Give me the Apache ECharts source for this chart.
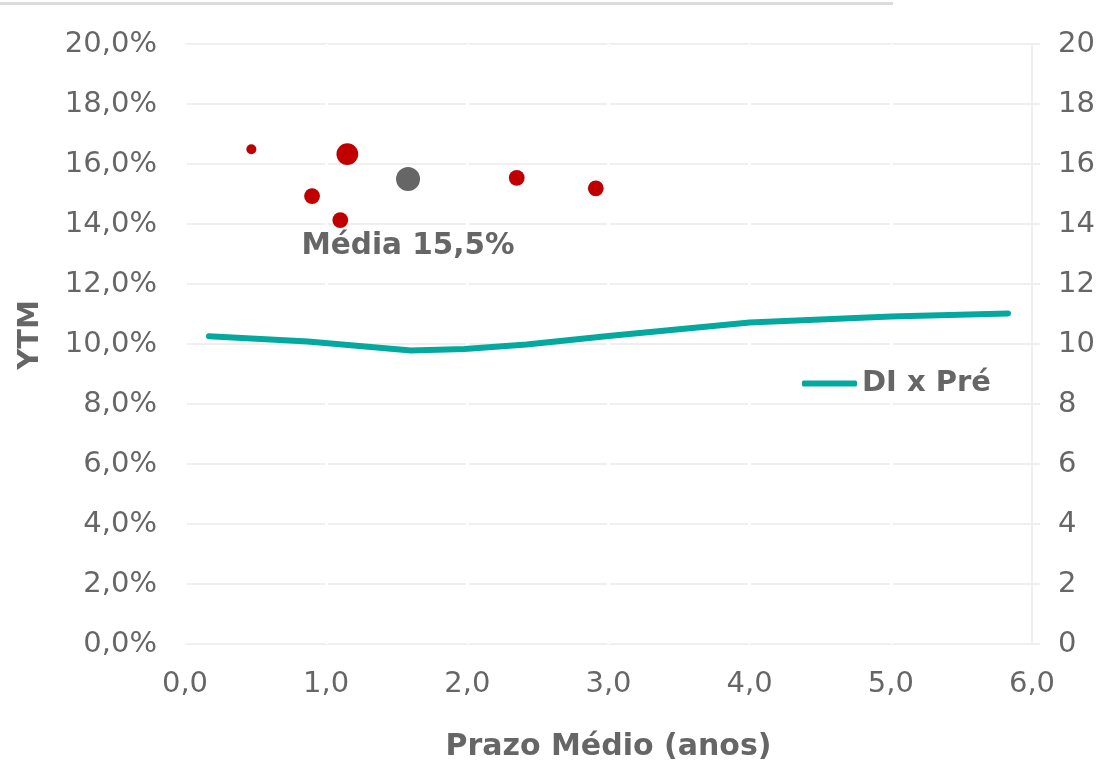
<!DOCTYPE html>
<html>
<head>
<meta charset="utf-8">
<script src="https://cdn.jsdelivr.net/npm/echarts@6/dist/echarts.min.js"></script>
<style>
html,body{margin:0;padding:0;background:#fff;}
#chart{width:1116px;height:763px;}
</style>
</head>
<body>
<div id="chart"></div>
<script>
// ---- Data ----
const prazoEmissores = [0.47, 0.90, 1.10, 1.15, 2.35, 2.91];
const ytmEmissores   = [16.49, 14.93, 14.13, 16.33, 15.54, 15.19];
const pesoEmissores  = [4, 10, 10, 19, 10, 10];

const prazoMedia = [1.58];
const ytmMedia   = [15.5];
const pesoMedia  = [23];
const mediaLabel = 'Média 15,5%';

const curvaPrazo = [0.17, 0.87, 1.60, 1.98, 2.42, 3.00, 4.00, 5.00, 5.83];
const curvaTaxa  = [10.26, 10.08, 9.78, 9.83, 9.98, 10.27, 10.72, 10.92, 11.02];
const curvaNome  = 'DI x Pré';

const xTitle = 'Prazo Médio (anos)';
const yTitle = 'YTM';

// ---- Build ----
const fmt1 = v => v.toFixed(1).replace('.', ',');
const emissores = prazoEmissores.map((x, i) => [x, ytmEmissores[i], pesoEmissores[i]]);
const media = prazoMedia.map((x, i) => [x, ytmMedia[i], pesoMedia[i]]);
const curva = curvaPrazo.map((x, i) => [x, curvaTaxa[i]]);
const sizeFn = d => 5 * Math.sqrt(d[2]);

const txt = '#666666';
const grid = '#efefef';
const font = 'DejaVu Sans';

const chart = echarts.init(document.getElementById('chart'), null, {renderer: 'canvas'});
chart.setOption({
  backgroundColor: '#ffffff',
  animation: false,
  textStyle: {fontFamily: font},
  graphic: [{
    type: 'rect', left: 0, top: 2, shape: {width: 893, height: 3},
    style: {fill: '#dcdcdc'}, silent: true
  }],
  grid: {left: 185, right: 84, top: 44, bottom: 119, containLabel: false, outerBoundsMode: 'none'},
  legend: {
    data: [curvaNome],
    left: 802, top: 369, padding: 0,
    itemWidth: 55, itemHeight: 6,
    icon: 'roundRect',
    textStyle: {color: txt, fontSize: 29, fontWeight: 'bold', fontFamily: font}
  },
  xAxis: {
    type: 'value', min: 0, max: 6, interval: 1,
    name: xTitle, nameLocation: 'middle', nameGap: 88,
    nameTextStyle: {color: txt, fontSize: 30, fontWeight: 'bold', fontFamily: font},
    axisLine: {show: false}, axisTick: {show: false},
    axisLabel: {color: txt, fontSize: 29, margin: 26, formatter: v => fmt1(v)},
    splitLine: {show: true, lineStyle: {color: '#ffffff', width: 3}}
  },
  yAxis: [{
    type: 'value', min: 0, max: 20, interval: 2, position: 'left',
    name: yTitle, nameLocation: 'middle', nameGap: 140, nameRotate: 90,
    nameTextStyle: {color: txt, fontSize: 29, fontWeight: 'bold', fontFamily: font, padding: [0, 0, 0, 18]},
    axisLine: {show: false}, axisTick: {show: false},
    axisLabel: {color: txt, fontSize: 29, margin: 28, formatter: v => fmt1(v) + '%'},
    splitLine: {show: true, lineStyle: {color: grid, width: 2}}
  }, {
    type: 'value', min: 0, max: 20, interval: 2, position: 'right',
    axisLine: {show: true, lineStyle: {color: grid, width: 2}},
    axisTick: {show: true, length: 8, lineStyle: {color: grid, width: 2}},
    axisLabel: {color: txt, fontSize: 29, margin: 26, formatter: v => String(v)},
    splitLine: {show: false}
  }],
  series: [{
    name: curvaNome, type: 'line', yAxisIndex: 1,
    data: curva, showSymbol: false, symbol: 'none', smooth: false,
    lineStyle: {color: '#03A89E', width: 6, cap: 'round', join: 'round'},
    itemStyle: {color: '#03A89E'}, z: 3
  }, {
    name: 'Emissores', type: 'scatter', yAxisIndex: 0,
    data: emissores, symbolSize: sizeFn,
    itemStyle: {color: '#C00000', opacity: 1}, z: 4
  }, {
    name: 'Média', type: 'scatter', yAxisIndex: 0,
    data: media, symbolSize: sizeFn,
    itemStyle: {color: '#666666', opacity: 1}, z: 4,
    label: {show: true, position: 'bottom', distance: 40, formatter: mediaLabel,
      color: txt, fontSize: 29.5, fontWeight: 'bold', fontFamily: font}
  }]
});
</script>
</body>
</html>
